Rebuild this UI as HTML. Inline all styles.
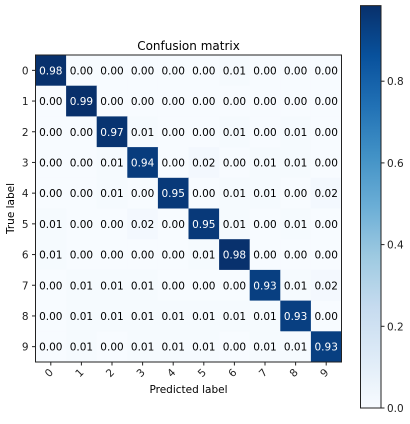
<!DOCTYPE html>
<html><head><meta charset="utf-8"><style>
body{margin:0;background:#fff;}
svg{display:block;font-family:"DejaVu Sans","Liberation Sans",sans-serif;}
</style></head><body>
<svg id="c" width="410" height="424" viewBox="0 0 410 424"></svg>
<script>
const classes=['0','1','2','3','4','5','6','7','8','9'];
const row0=[0.98,0.00,0.00,0.00,0.00,0.00,0.01,0.00,0.00,0.00];
const row1=[0.00,0.99,0.00,0.00,0.00,0.00,0.00,0.00,0.00,0.00];
const row2=[0.00,0.00,0.97,0.01,0.00,0.00,0.01,0.00,0.01,0.00];
const row3=[0.00,0.00,0.01,0.94,0.00,0.02,0.00,0.01,0.01,0.00];
const row4=[0.00,0.00,0.01,0.00,0.95,0.00,0.01,0.01,0.00,0.02];
const row5=[0.01,0.00,0.00,0.02,0.00,0.95,0.01,0.00,0.01,0.00];
const row6=[0.01,0.00,0.00,0.00,0.00,0.01,0.98,0.00,0.00,0.00];
const row7=[0.00,0.01,0.01,0.01,0.00,0.00,0.00,0.93,0.01,0.02];
const row8=[0.00,0.01,0.01,0.01,0.01,0.01,0.01,0.01,0.93,0.00];
const row9=[0.00,0.01,0.00,0.01,0.01,0.01,0.00,0.01,0.01,0.93];
const matrix=[row0,row1,row2,row3,row4,row5,row6,row7,row8,row9];
const cbTicks=[0.0,0.2,0.4,0.6,0.8];
const vmax=0.985;

const NS='http://www.w3.org/2000/svg';
const svg=document.getElementById('c');
function el(t,a,p){const e=document.createElementNS(NS,t);for(const k in a)e.setAttribute(k,a[k]);(p||svg).appendChild(e);return e;}
const stops=['#f7fbff','#deebf7','#c6dbef','#9ecae1','#6baed6','#4292c6','#2171b5','#08519c','#08306b'];
function hx(h){return [1,3,5].map(i=>parseInt(h.substr(i,2),16));}
function blues(t){t=Math.max(0,Math.min(1,t));const f=t*(stops.length-1);const i=Math.min(stops.length-2,Math.floor(f));const r=f-i;const a=hx(stops[i]),b=hx(stops[i+1]);return 'rgb('+a.map((v,k)=>Math.round(v+(b[k]-v)*r)).join(',')+')';}

const X0=35.5,Y0=55,W=306,H=307;
const cw=W/classes.length,ch=H/classes.length;
const xs=j=>X0+j*cw, ys=i=>Y0+i*ch;

const t=el('text',{x:X0+W/2,y:50,'text-anchor':'middle','font-size':12,fill:'#000'});t.textContent='Confusion matrix';



matrix.forEach((row,i)=>row.forEach((v,j)=>{
 const r=el('rect',{x:xs(j),y:ys(i),width:cw+0.5,height:ch+0.5,fill:blues(v/vmax)});
 
 
 const tx=el('text',{x:xs(j)+cw/2,y:ys(i)+ch/2+4,'text-anchor':'middle','font-size':10.5,fill:v>vmax/2?'#fff':'#000'});
 tx.textContent=v.toFixed(2);
 
 
}));
const fr=el('rect',{x:X0,y:Y0,width:W,height:H,fill:'none',stroke:'#222','stroke-width':1});



classes.forEach((c,k)=>{
 const cy=ys(k)+ch/2;
 el('line',{x1:X0-3.5,x2:X0,y1:cy,y2:cy,stroke:'#222'});
 const yl=el('text',{x:X0-7,y:cy+4,'text-anchor':'end','font-size':10.5,fill:'#222'});yl.textContent=c;
 
 
 const cx=xs(k)+cw/2;
 el('line',{x1:cx,x2:cx,y1:Y0+H,y2:Y0+H+3.5,stroke:'#222'});
 const xl=el('text',{x:cx+3,y:Y0+H+11,'text-anchor':'end','font-size':10.5,fill:'#222',transform:'rotate(-45 '+(cx+3)+' '+(Y0+H+11)+')'});xl.textContent=c;
 
 
});
const xt=el('text',{x:X0+W/2,y:393,'text-anchor':'middle','font-size':10.5,fill:'#000'});xt.textContent='Predicted label';


const yt=el('text',{x:0,y:0,'text-anchor':'middle','font-size':10.5,fill:'#000',transform:'translate(14 '+(Y0+H/2)+') rotate(-90)'});yt.textContent='True label';



// colorbar
const CX=360.5,CW=20.5,CB=408,PPU=408.5;
const cy=v=>CB-v*PPU;
const defs=el('defs',{});
const g=el('linearGradient',{id:'cbg',x1:0,y1:1,x2:0,y2:0},defs);
for(let k=0;k<=16;k++){el('stop',{offset:k/16,'stop-color':blues(k/16)},g);}
const cb=el('rect',{x:CX,y:cy(vmax),width:CW,height:CB-cy(vmax),fill:'url(#cbg)',stroke:'#222','stroke-width':1});


cbTicks.forEach(v=>{
 const y=cy(v);
 el('line',{x1:CX+CW,x2:CX+CW+3.5,y1:y,y2:y,stroke:'#222'});
 const l=el('text',{x:CX+CW+6,y:y+4,'font-size':10.5,fill:'#222'});l.textContent=v.toFixed(1);
 
 
});
</script>
</body></html>
